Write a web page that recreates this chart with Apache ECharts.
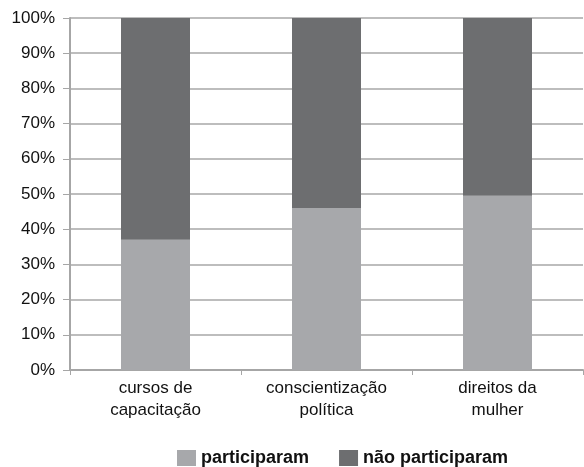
<!DOCTYPE html>
<html><head><meta charset="utf-8">
<script src="https://cdn.jsdelivr.net/npm/echarts@6/dist/echarts.min.js"></script>
<style>html,body{margin:0;padding:0;background:#fff}#c{width:584px;height:467px}</style>
</head><body><div id="c"></div>
<script>
const categories = ['cursos de\ncapacitação', 'conscientização\npolítica', 'direitos da\nmulher'];
const participaram = [37, 46, 49.5];
const naoParticiparam = [63, 54, 50.5];
const yTicks = [0, 10, 20, 30, 40, 50, 60, 70, 80, 90, 100];

const chart = echarts.init(document.getElementById('c'), null, {renderer: 'canvas'});
const font = 'Liberation Sans, Arial, sans-serif';
chart.setOption({
  animation: false,
  grid: {left: 70, right: 1, top: 18, bottom: 97, containLabel: false},
  legend: {
    top: 449, left: 177, padding: 0, itemWidth: 19, itemHeight: 16, itemGap: 30,
    icon: 'rect',
    textStyle: {fontFamily: font, fontSize: 18, fontWeight: 'bold', color: '#111'},
    data: ['participaram', 'não participaram']
  },
  xAxis: {
    type: 'category', data: categories,
    axisLine: {lineStyle: {color: '#a6a6a6', width: 2}},
    axisTick: {show: true, length: 5, lineStyle: {color: '#a6a6a6'}},
    axisLabel: {fontFamily: font, fontSize: 17, color: '#111', margin: 7, lineHeight: 22}
  },
  yAxis: {
    type: 'value', min: 0, max: 100, interval: 10,
    axisLine: {show: true, lineStyle: {color: '#a6a6a6', width: 2}},
    axisTick: {show: true, length: 7, lineStyle: {color: '#a6a6a6'}},
    splitLine: {lineStyle: {color: '#bdbdbd', width: 2}},
    axisLabel: {fontFamily: font, fontSize: 17, color: '#111', margin: 15,
      formatter: v => yTicks.includes(v) ? v + '%' : ''}
  },
  series: [
    {name: 'participaram', type: 'bar', stack: 't', data: participaram, barWidth: 69,
     itemStyle: {color: '#a7a8ab'}},
    {name: 'não participaram', type: 'bar', stack: 't', data: naoParticiparam, barWidth: 69,
     itemStyle: {color: '#6d6e70'}}
  ]
});
</script></body></html>
